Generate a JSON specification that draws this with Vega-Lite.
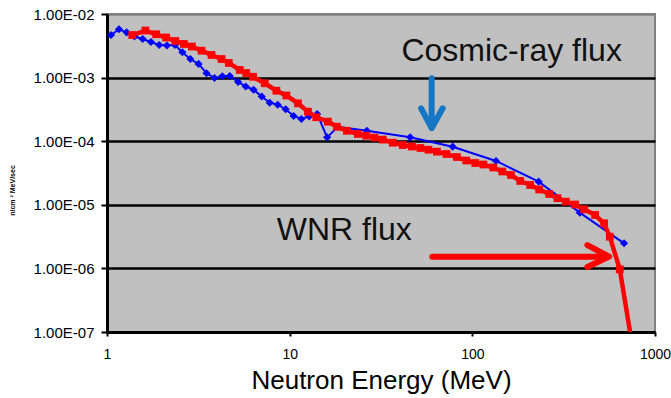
{
  "$schema": "https://vega.github.io/schema/vega-lite/v6.json",
  "width": 548,
  "height": 318,
  "autosize": {"type": "none"},
  "padding": {"left": 107, "top": 14, "right": 16, "bottom": 66},
  "background": "white",
  "config": {
    "view": {"fill": "#C0C0C0", "stroke": "#808080", "strokeWidth": 2},
    "font": "Liberation Sans"
  },
  "datasets": {
    "cosmic": [
      {"E": 1.052, "F": 4.67e-3}, {"E": 1.163, "F": 5.75e-3}, {"E": 1.281, "F": 5.15e-3},
      {"E": 1.414, "F": 4.43e-3}, {"E": 1.567, "F": 4.04e-3}, {"E": 1.740, "F": 3.63e-3},
      {"E": 1.931, "F": 3.26e-3}, {"E": 2.128, "F": 3.20e-3}, {"E": 2.353, "F": 3.26e-3},
      {"E": 2.586, "F": 2.50e-3}, {"E": 2.859, "F": 1.96e-3}, {"E": 3.171, "F": 1.64e-3},
      {"E": 3.506, "F": 1.17e-3}, {"E": 3.877, "F": 9.86e-4}, {"E": 4.277, "F": 1.05e-3},
      {"E": 4.700, "F": 1.06e-3}, {"E": 5.220, "F": 8.53e-4}, {"E": 5.749, "F": 7.25e-4},
      {"E": 6.343, "F": 6.45e-4}, {"E": 7.031, "F": 5.05e-4}, {"E": 7.776, "F": 4.03e-4},
      {"E": 8.600, "F": 3.75e-4}, {"E": 9.509, "F": 3.18e-4}, {"E": 10.51, "F": 2.49e-4},
      {"E": 11.59, "F": 2.23e-4}, {"E": 12.78, "F": 2.46e-4}, {"E": 14.14, "F": 2.68e-4},
      {"E": 16.03, "F": 1.15e-4}, {"E": 18.36, "F": 1.69e-4}, {"E": 26.46, "F": 1.46e-4},
      {"E": 45.66, "F": 1.15e-4}, {"E": 78.04, "F": 8.20e-5}, {"E": 134.8, "F": 4.89e-5},
      {"E": 230.9, "F": 2.31e-5}, {"E": 387.7, "F": 7.52e-6}, {"E": 677.1, "F": 2.48e-6}
    ],
    "wnr": [
      {"E": 1.375, "F": 4.67e-3}, {"E": 1.623, "F": 5.50e-3}, {"E": 1.860, "F": 4.80e-3},
      {"E": 2.109, "F": 4.27e-3}, {"E": 2.367, "F": 3.76e-3}, {"E": 2.635, "F": 3.38e-3},
      {"E": 2.914, "F": 3.08e-3}, {"E": 3.292, "F": 2.65e-3}, {"E": 3.734, "F": 2.27e-3},
      {"E": 4.235, "F": 1.96e-3}, {"E": 4.642, "F": 1.70e-3}, {"E": 5.332, "F": 1.32e-3},
      {"E": 5.785, "F": 1.18e-3}, {"E": 6.303, "F": 1.03e-3}, {"E": 7.302, "F": 8.14e-4},
      {"E": 8.461, "F": 6.22e-4}, {"E": 9.594, "F": 5.23e-4}, {"E": 11.10, "F": 3.94e-4},
      {"E": 12.59, "F": 2.91e-4}, {"E": 13.99, "F": 2.38e-4}, {"E": 16.19, "F": 2.03e-4},
      {"E": 18.13, "F": 1.69e-4}, {"E": 20.56, "F": 1.46e-4}, {"E": 23.61, "F": 1.30e-4},
      {"E": 26.25, "F": 1.22e-4}, {"E": 29.14, "F": 1.14e-4}, {"E": 32.35, "F": 1.06e-4},
      {"E": 36.68, "F": 9.47e-5}, {"E": 41.60, "F": 8.71e-5}, {"E": 46.71, "F": 8.25e-5},
      {"E": 51.96, "F": 7.82e-5}, {"E": 57.48, "F": 7.35e-5}, {"E": 63.98, "F": 6.84e-5},
      {"E": 72.12, "F": 6.29e-5}, {"E": 82.31, "F": 5.64e-5}, {"E": 92.73, "F": 4.97e-5},
      {"E": 103.8, "F": 4.54e-5}, {"E": 114.9, "F": 4.30e-5}, {"E": 130.2, "F": 3.86e-5},
      {"E": 145.9, "F": 3.34e-5}, {"E": 162.7, "F": 2.94e-5}, {"E": 182.9, "F": 2.37e-5},
      {"E": 207.5, "F": 2.05e-5}, {"E": 232.3, "F": 1.74e-5}, {"E": 263.5, "F": 1.48e-5},
      {"E": 292.5, "F": 1.27e-5}, {"E": 325.1, "F": 1.12e-5}, {"E": 365.4, "F": 1.01e-5},
      {"E": 409.3, "F": 8.50e-6}, {"E": 470.0, "F": 6.91e-6}, {"E": 526.3, "F": 5.12e-6},
      {"E": 565.6, "F": 3.15e-6}, {"E": 641.5, "F": 9.68e-7}, {"E": 739.6, "F": 8.04e-8}
    ],
    "blueArrow": [
      {"part": "shaft", "o": 1, "E": 59.9, "F": 9.75e-4},
      {"part": "shaft", "o": 2, "E": 59.9, "F": 1.70e-4},
      {"part": "head", "o": 1, "E": 52.44, "F": 3.29e-4},
      {"part": "head", "o": 2, "E": 59.9, "F": 1.60e-4},
      {"part": "head", "o": 3, "E": 68.8, "F": 3.29e-4}
    ],
    "redArrow": [
      {"part": "shaft", "o": 1, "E": 60.4, "F": 1.53e-6},
      {"part": "shaft", "o": 2, "E": 550.0, "F": 1.53e-6},
      {"part": "head", "o": 1, "E": 426.6, "F": 2.33e-6},
      {"part": "head", "o": 2, "E": 560.6, "F": 1.53e-6},
      {"part": "head", "o": 3, "E": 426.6, "F": 1.05e-6}
    ],
    "labels": [
      {"E": 40.9, "F": 1.82e-3, "t": "Cosmic-ray flux"},
      {"E": 8.49, "F": 2.80e-6, "t": "WNR flux"}
    ]
  },
  "encoding": {
    "x": {
      "field": "E", "type": "quantitative",
      "scale": {"type": "log", "domain": [1, 1000], "nice": false},
      "axis": {
        "values": [1, 10, 100, 1000],
        "format": "d",
        "title": "Neutron Energy (MeV)",
        "titleFontSize": 26, "titleFontWeight": "normal", "titleColor": "black",
        "titlePadding": 6,
        "labelFontSize": 14, "labelColor": "black", "labelPadding": 11,
        "labelOverlap": false, "labelBound": false, "labelFlush": false,
        "domainColor": "black", "domainWidth": 3,
        "tickColor": "black", "tickSize": 4, "tickWidth": 2,
        "grid": false
      }
    },
    "y": {
      "field": "F", "type": "quantitative",
      "scale": {"type": "log", "domain": [1e-7, 1e-2], "nice": false},
      "axis": {
        "values": [1e-7, 1e-6, 1e-5, 1e-4, 1e-3, 1e-2],
        "labelExpr": "'1.00E-0' + toString(-round(log(datum.value)/LN10))",
        "labelFontSize": 15, "labelColor": "black", "labelPadding": 7,
        "labelOverlap": false, "labelBound": false, "labelFlush": false,
        "domainColor": "black", "domainWidth": 3,
        "tickColor": "black", "tickSize": 6, "tickWidth": 2,
        "grid": true,
        "gridColor": {"condition": {"test": "datum.value >= 0.009", "value": "#808080"}, "value": "black"},
        "gridWidth": 2.5, "gridOpacity": 1,
        "title": "n/cm   ² MeV/sec",
        "titleFontSize": 7, "titleFontWeight": "bold", "titleColor": "black",
        "titleAngle": -90, "titleAlign": "center", "titleBaseline": "middle",
        "titleX": -95, "titleY": 176
      }
    }
  },
  "layer": [
    {
      "data": {"name": "cosmic"},
      "mark": {"type": "line", "color": "#0000FF", "strokeWidth": 2, "clip": true},
      "encoding": {}
    },
    {
      "data": {"name": "cosmic"},
      "mark": {"type": "point", "shape": "diamond", "filled": true, "color": "#0000FF", "size": 66, "opacity": 1, "clip": true},
      "encoding": {}
    },
    {
      "data": {"name": "wnr"},
      "mark": {"type": "line", "color": "#FF0000", "strokeWidth": 4.5, "clip": true},
      "encoding": {}
    },
    {
      "data": {"name": "wnr"},
      "mark": {"type": "square", "color": "#FF0000", "size": 60, "opacity": 1, "clip": true},
      "encoding": {}
    },
    {
      "data": {"name": "blueArrow"},
      "mark": {"type": "line", "color": "#1577C4", "strokeWidth": 6, "strokeCap": "round", "strokeJoin": "round"},
      "encoding": {"detail": {"field": "part"}, "order": {"field": "o"}}
    },
    {
      "data": {"name": "redArrow"},
      "mark": {"type": "line", "color": "#FF0000", "strokeWidth": 6, "strokeCap": "round", "strokeJoin": "round"},
      "encoding": {"detail": {"field": "part"}, "order": {"field": "o"}}
    },
    {
      "data": {"name": "labels"},
      "mark": {"type": "text", "align": "left", "baseline": "alphabetic", "fontSize": 32, "color": "#111111", "font": "Liberation Sans"},
      "encoding": {"text": {"field": "t"}}
    }
  ]
}
